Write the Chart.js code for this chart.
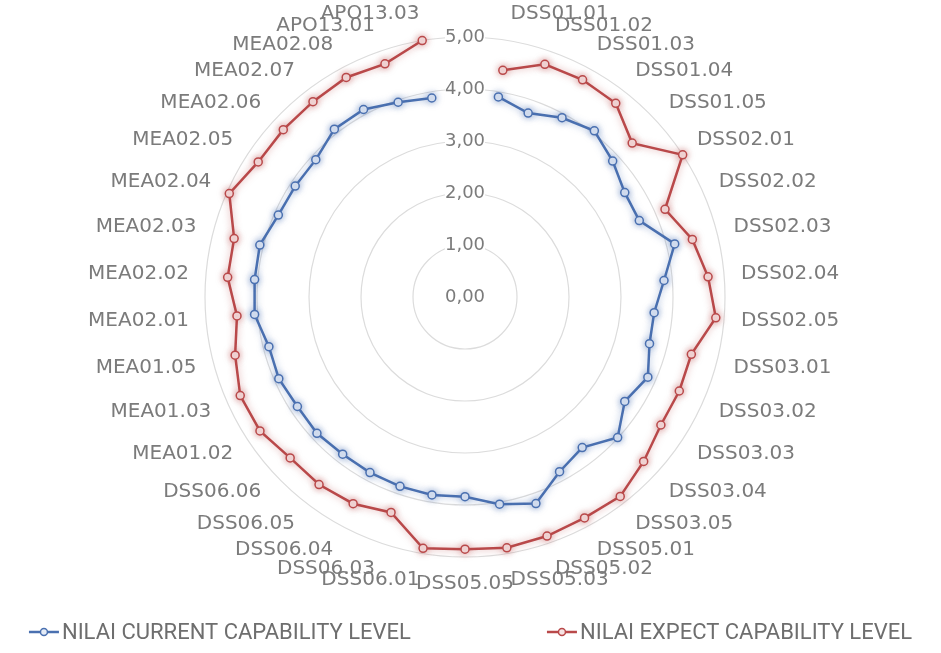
<!DOCTYPE html>
<html>
<head>
<meta charset="utf-8">
<script src="https://cdn.jsdelivr.net/npm/chart.js@4.4.1/dist/chart.umd.min.js"></script>
<style>
  html, body { margin: 0; padding: 0; background: #fff; }
  #wrap { width: 941px; height: 653px; position: relative; }
</style>
</head>
<body>
<div id="wrap"><canvas id="radar"></canvas></div>
<script>
'use strict';

// first category is empty in the source sheet (gap at the top)
const categories = [
  '', 'DSS01.01', 'DSS01.02', 'DSS01.03', 'DSS01.04', 'DSS01.05',
  'DSS02.01', 'DSS02.02', 'DSS02.03', 'DSS02.04', 'DSS02.05',
  'DSS03.01', 'DSS03.02', 'DSS03.03', 'DSS03.04', 'DSS03.05',
  'DSS05.01', 'DSS05.02', 'DSS05.03', 'DSS05.05',
  'DSS06.01', 'DSS06.03', 'DSS06.04', 'DSS06.05', 'DSS06.06',
  'MEA01.02', 'MEA01.03', 'MEA01.05',
  'MEA02.01', 'MEA02.02', 'MEA02.03', 'MEA02.04', 'MEA02.05',
  'MEA02.06', 'MEA02.07', 'MEA02.08', 'APO13.01', 'APO13.03'
];

const currentLevel = [
  null, 3.90, 3.74, 3.92, 4.05, 3.86,
  3.67, 3.66, 4.16, 3.84, 3.65,
  3.66, 3.84, 3.67, 3.99, 3.67,
  3.82, 4.20, 4.04, 3.84,
  3.86, 3.85, 3.84, 3.83, 3.87,
  3.85, 3.91, 3.89,
  4.06, 4.06, 4.07, 3.92, 3.90,
  3.90, 4.09, 4.10, 3.96, 3.88
];

const expectLevel = [
  null, 4.42, 4.73, 4.75, 4.72, 4.37,
  5.00, 4.20, 4.51, 4.69, 4.84,
  4.49, 4.50, 4.50, 4.67, 4.86,
  4.83, 4.86, 4.89, 4.85,
  4.90, 4.38, 4.52, 4.57, 4.57,
  4.71, 4.72, 4.56,
  4.40, 4.58, 4.58, 4.95, 4.75,
  4.75, 4.76, 4.80, 4.74, 5.00
];

const seriesNames = ['NILAI CURRENT CAPABILITY LEVEL', 'NILAI EXPECT CAPABILITY LEVEL'];
const tickMin = 0;
const tickMax = 5;
const tickStep = 1;

const BLUE = '#4a70b0';
const RED = '#b9494a';
const GREY = '#7b7b7b';
const fmtTick = v => v.toFixed(2).replace('.', ',');

// soft glow round the lines, like the office chart style
const glow = {
  id: 'glow',
  beforeDatasetDraw(chart, args) {
    const ds = chart.data.datasets[args.index];
    chart.ctx.save();
    chart.ctx.shadowColor = ds.glowColor;
    chart.ctx.shadowBlur = 7;
  },
  afterDatasetDraw(chart) {
    chart.ctx.restore();
  }
};

// excel centres the side labels on their spoke; chart.js hangs them above/below
const centreLabels = {
  id: 'centreLabels',
  afterLayout(chart) {
    const scale = chart.scales.r;
    const items = scale._pointLabelItems || [];
    items.forEach((it, i) => {
      const h = it.bottom - it.top;
      const a = scale.getIndexAngle(i); // from top, clockwise
      const deg = Math.round(a * 180 / Math.PI) % 360;
      let py;
      if (deg === 90 || deg === 270) py = it.y + h / 2;
      else if (deg > 90 && deg < 270) py = it.y;
      else py = it.y + h;
      const newTop = py - (h / 2) * Math.cos(a) - h / 2;
      const d = newTop - it.y;
      it.y += d; it.top += d; it.bottom += d;
    });
  },
  // chart.js skips the label of the first tick, the original shows it
  beforeDatasetsDraw(chart) {
    const scale = chart.scales.r;
    const t = scale.options.ticks;
    const ctx = chart.ctx;
    ctx.save();
    ctx.font = Chart.helpers.toFont(t.font).string;
    ctx.fillStyle = t.color;
    ctx.textAlign = 'center';
    ctx.textBaseline = 'middle';
    ctx.fillText(fmtTick(tickMin), scale.xCenter, scale.yCenter);
    ctx.restore();
  }
};

// legend with line + marker, spaced like the original
const lineLegend = {
  id: 'lineLegend',
  afterDraw(chart, args, opts) {
    const ctx = chart.ctx;
    const sets = chart.data.datasets;
    ctx.save();
    ctx.font = opts.font;
    ctx.textBaseline = 'middle';
    const markW = 30, textGap = 3;
    const widths = sets.map(ds => markW + textGap + ctx.measureText(ds.label).width);
    const total = widths.reduce((a, b) => a + b, 0) + opts.gap * (sets.length - 1);
    let x = (chart.width - total) / 2 + opts.shift;
    const y = opts.y;
    sets.forEach((ds, i) => {
      ctx.strokeStyle = ds.borderColor;
      ctx.lineWidth = 2.5;
      ctx.beginPath();
      ctx.moveTo(x, y);
      ctx.lineTo(x + markW, y);
      ctx.stroke();
      ctx.beginPath();
      ctx.arc(x + markW / 2, y, 3.5, 0, Math.PI * 2);
      ctx.fillStyle = ds.pointBackgroundColor;
      ctx.fill();
      ctx.lineWidth = 1.5;
      ctx.stroke();
      ctx.fillStyle = opts.color;
      ctx.fillText(ds.label, x + markW + textGap, y + 1);
      x += widths[i] + opts.gap;
    });
    ctx.restore();
  }
};

new Chart(document.getElementById('radar'), {
  type: 'radar',
  data: {
    labels: categories,
    datasets: [
      {
        label: seriesNames[0],
        data: currentLevel,
        borderColor: BLUE,
        glowColor: 'rgba(74,112,176,0.55)',
        borderWidth: 2.5,
        pointRadius: 4,
        pointBorderWidth: 1.5,
        pointBackgroundColor: '#e4ebf6',
        pointBorderColor: BLUE,
        fill: false,
        spanGaps: false
      },
      {
        label: seriesNames[1],
        data: expectLevel,
        borderColor: RED,
        glowColor: 'rgba(185,73,74,0.5)',
        borderWidth: 2.5,
        pointRadius: 4,
        pointBorderWidth: 1.5,
        pointBackgroundColor: '#f6e3e3',
        pointBorderColor: RED,
        fill: false,
        spanGaps: false
      }
    ]
  },
  options: {
    responsive: true,
    maintainAspectRatio: false,
    animation: false,
    layout: { padding: { top: -18, bottom: 59, left: 0, right: 11 } },
    plugins: {
      legend: { display: false },
      tooltip: { enabled: false },
      lineLegend: {
        font: '22px Roboto, sans-serif',
        color: '#6e6e6e',
        gap: 136,
        shift: 0,
        y: 632
      }
    },
    scales: {
      r: {
        min: tickMin,
        max: tickMax,
        angleLines: { display: false },
        grid: { circular: true, color: '#dcdcdc', lineWidth: 1.2 },
        ticks: {
          stepSize: tickStep,
          color: GREY,
          font: { family: '"DejaVu Sans", sans-serif', size: 18, lineHeight: 1 },
          backdropColor: '#fff',
          backdropPadding: 0,
          callback: fmtTick
        },
        pointLabels: {
          color: GREY,
          padding: 8,
          font: { family: '"DejaVu Sans", sans-serif', size: 20, lineHeight: 1 }
        }
      }
    }
  },
  plugins: [glow, centreLabels, lineLegend]
});
</script>
</body>
</html>
